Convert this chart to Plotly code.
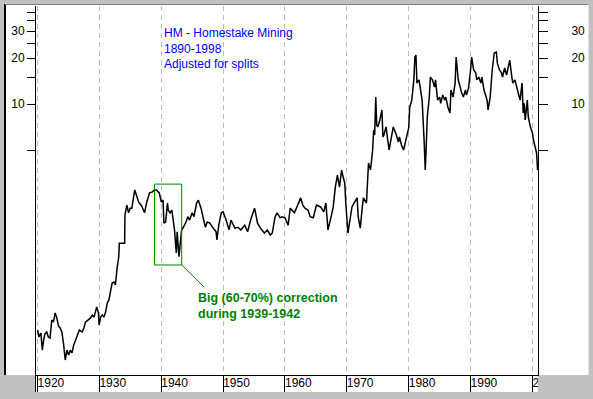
import plotly.graph_objects as go

# ---- data (decimal year, split-adjusted price, log scale) ----
years = [
    1920.0, 1920.21, 1920.54, 1920.77, 1920.98, 1921.2, 1921.48, 1921.75, 1922.02, 1922.3,
    1922.57, 1922.84, 1923.11, 1923.39, 1923.66, 1923.93, 1924.2, 1924.48, 1924.75, 1925.03,
    1925.3, 1925.57, 1925.85, 1926.11, 1926.39, 1926.77, 1927.21, 1927.49, 1927.75, 1928.2,
    1928.57, 1928.85, 1929.13, 1929.56, 1929.84, 1929.95, 1930.2, 1930.48, 1930.75, 1931.0,
    1931.27, 1931.54, 1931.79, 1932.06, 1932.33, 1932.59, 1932.86, 1933.13, 1933.22, 1934.08,
    1934.13, 1934.29, 1934.44, 1934.71, 1934.97,
    1935.24, 1935.71, 1936.35, 1936.83, 1937.3, 1937.62, 1938.1, 1938.57, 1938.89, 1939.21,
    1939.68, 1940.0, 1940.29, 1940.43, 1940.71, 1941.0, 1941.14, 1941.43, 1941.71, 1941.86,
    1942.14, 1942.43, 1942.57, 1942.86, 1943.14, 1943.29, 1943.57, 1944.0, 1944.29, 1944.57,
    1945.0, 1945.29, 1945.71, 1946.0, 1946.14, 1946.43, 1946.86, 1947.14, 1947.43, 1947.86,
    1948.29, 1948.86, 1949.0, 1949.29, 1949.71, 1950.0, 1950.48, 1950.95, 1951.27, 1951.9,
    1952.38, 1952.86, 1953.49, 1953.97, 1954.44, 1955.08, 1955.24, 1955.56, 1956.03, 1956.67,
    1957.14, 1957.62, 1957.94, 1958.41, 1958.73, 1959.21, 1959.52, 1960.0, 1960.51, 1960.85,
    1961.53, 1962.03, 1962.54, 1962.88, 1963.22, 1963.73, 1964.07, 1964.58, 1965.08, 1965.76,
    1966.27, 1966.61, 1966.95, 1967.46, 1967.8, 1968.14, 1968.47, 1968.81, 1969.15, 1969.32,
    1969.66, 1969.83, 1970.17, 1970.5, 1970.83, 1971.17, 1971.67, 1971.83, 1972.17, 1972.5,
    1972.67, 1973.17, 1973.33, 1973.5, 1973.83, 1974.17, 1974.33, 1974.5, 1974.67, 1974.83,
    1975.0, 1975.33, 1975.67, 1975.83, 1976.0, 1976.33, 1976.83, 1977.17, 1977.5, 1978.0,
    1978.33, 1978.5, 1978.83, 1979.17, 1979.5, 1979.67, 1980.0, 1980.17, 1980.5, 1980.83,
    1981.0, 1981.17, 1981.33, 1981.67, 1981.83, 1982.17, 1982.5, 1982.67, 1982.83, 1983.0,
    1983.33, 1983.5, 1983.83, 1984.17, 1984.33, 1984.67, 1985.0, 1985.17, 1985.5, 1985.83,
    1986.0, 1986.33, 1986.67, 1986.83, 1987.17, 1987.5, 1987.67, 1988.0, 1988.33, 1988.5,
    1988.83, 1989.17, 1989.33, 1989.67, 1990.0, 1990.17, 1990.5, 1990.83, 1991.0, 1991.33,
    1991.67, 1991.83, 1992.17, 1992.5, 1992.67, 1992.83, 1993.17, 1993.5, 1993.67, 1993.83,
    1994.17, 1994.33, 1994.67, 1995.0, 1995.17, 1995.5, 1995.83, 1996.0, 1996.33, 1996.67,
    1996.83, 1997.17, 1997.5, 1997.67, 1998.0, 1998.33, 1998.5, 1998.67, 1998.83, 1999.17,
    1999.33, 1999.67, 2000.0, 2000.17, 2000.5, 2000.67, 2000.83,
]
prices = [
    0.332, 0.299, 0.317, 0.245, 0.285, 0.313, 0.322, 0.299, 0.294, 0.386,
    0.374, 0.429, 0.398, 0.353, 0.342, 0.322, 0.269, 0.211, 0.245, 0.228,
    0.245, 0.235, 0.265, 0.285, 0.299, 0.332, 0.322, 0.342, 0.374, 0.386,
    0.398, 0.416, 0.403, 0.470, 0.429, 0.358, 0.403, 0.416, 0.403, 0.435,
    0.499, 0.522, 0.606, 0.674, 0.684, 0.654, 0.845, 1.00, 1.226, 1.226,
    1.88, 2.02, 2.18, 1.94, 2.08,
    2.08, 2.74, 2.28, 2.15, 1.94, 2.25, 2.62, 2.66, 2.74, 2.74,
    2.62, 2.28, 2.35, 1.66, 1.69, 2.25, 2.02, 1.94, 2.02, 1.83,
    1.50, 1.06, 1.46, 1.00, 1.35, 1.50, 1.56, 1.69, 1.83, 1.74,
    1.94, 1.83, 2.25, 2.35, 2.25, 2.08, 1.74, 1.56, 1.69, 1.66,
    1.56, 1.46, 1.29, 1.61, 1.94, 1.97, 1.74, 1.50, 1.74, 1.54,
    1.56, 1.50, 1.61, 1.46, 1.74, 2.08, 1.94, 1.66, 1.54, 1.43,
    1.50, 1.39, 1.43, 1.83, 1.94, 1.80, 1.83, 1.80, 1.61, 2.08,
    1.94, 2.18, 2.43, 2.18, 2.08, 2.02, 1.83, 1.80, 2.18, 2.12,
    1.97, 2.25, 1.50, 1.83, 2.12, 2.86, 3.43, 2.86, 3.70, 3.43,
    3.04, 2.25, 1.43, 1.74, 2.12, 2.25, 2.43, 1.83, 1.54, 2.12,
    2.43, 2.25, 3.33, 4.11, 3.70, 5.00, 6.76, 6.27, 11.1, 7.29,
    7.08, 7.86, 9.14, 6.09, 6.27, 7.08, 5.00, 5.81, 7.08, 6.27,
    5.64, 6.09, 5.39, 5.00, 5.81, 6.09, 6.97, 9.56, 10.6, 14.4,
    20.3, 20.9, 13.7, 14.4, 12.7, 10.6, 5.64, 3.70, 5.23, 8.22,
    11.1, 15.0, 14.4, 12.9, 14.4, 10.6, 11.1, 10.1, 11.45, 10.6,
    11.1, 9.56, 8.72, 12.35, 11.1, 13.7, 20.3, 14.4, 12.9, 12.0,
    11.1, 12.35, 11.45, 12.7, 16.7, 20.3, 16.7, 16.0, 14.4, 15.0,
    13.7, 15.0, 12.35, 11.1, 10.6, 9.14, 11.1, 16.7, 20.3, 21.6,
    21.9, 18.5, 16.7, 16.0, 15.0, 17.2, 15.5, 16.7, 19.4, 15.0,
    13.7, 14.4, 12.9, 11.8, 10.6, 13.7, 8.72, 10.1, 7.86, 10.6,
    8.22, 7.08, 6.46, 5.81, 5.23, 4.78, 3.70,
]
assert len(years) == len(prices), (len(years), len(prices))

decades = [1920, 1930, 1940, 1950, 1960, 1970, 1980, 1990, 2000]
decade_labels = ["1920", "1930", "1940", "1950", "1960", "1970", "1980", "1990", "2000"]

y_tickvals = [5, 10, 15, 20, 25, 30, 35, 40]
y_ticktext = ["", "10", "", "20", "", "30", "", ""]

# highlighted correction box (years / prices) and its leader line end
box_years = [1938.9, 1943.3]
box_prices = [0.884, 2.99]
leader_end = (1946.9, 0.635)

title_lines = ["HM - Homestake Mining", "1890-1998", "Adjusted for splits"]
note_lines = ["Big (60-70%) correction", "during 1939-1942"]

# ---- layout geometry (pixels of a 593x399 canvas) ----
W, H = 593, 399
ML, MR, MT, MB = 36, 55, 6, 7
PW, PH = W - ML - MR, H - MT - MB
def px(x):
    return (x - ML) / PW
def py(y):
    return (H - MB - y) / PH

FONT = "Liberation Sans, Arial, sans-serif"
yrange = [-0.7736, 1.6414]
xrange_ = [1919.75, 2000.9]

fig = go.Figure()
fig.add_trace(go.Scatter(x=years, y=prices, mode="lines",
                         line=dict(color="black", width=1.5),
                         xaxis="x", yaxis="y", hoverinfo="skip"))
# anchor trace for the right-hand axis
fig.add_trace(go.Scatter(x=[years[0]], y=[prices[0]], mode="markers",
                         marker=dict(opacity=0), xaxis="x", yaxis="y3", hoverinfo="skip"))
# green box + leader
fig.add_trace(go.Scatter(x=[box_years[0], box_years[1], box_years[1], box_years[0], box_years[0]],
                         y=[box_prices[0], box_prices[0], box_prices[1], box_prices[1], box_prices[0]],
                         mode="lines", line=dict(color="#008000", width=1),
                         xaxis="x", yaxis="y", hoverinfo="skip"))
fig.add_trace(go.Scatter(x=[box_years[1], leader_end[0]], y=[box_prices[0], leader_end[1]],
                         mode="lines", line=dict(color="#008000", width=1),
                         xaxis="x", yaxis="y", hoverinfo="skip"))
# year labels strip
fig.add_trace(go.Scatter(x=decades, y=[0.5] * len(decades), mode="text", text=decade_labels,
                         textposition="middle right",
                         textfont=dict(size=12, color="black", family=FONT),
                         xaxis="x2", yaxis="y2", cliponaxis=True, hoverinfo="skip"))

strip_top = 16 / PH
main_bottom = 17 / PH

fig.update_layout(
    template="none",
    width=W, height=H,
    margin=dict(l=ML, r=MR, t=MT, b=MB, pad=0, autoexpand=False),
    paper_bgcolor="#c0c0c0", plot_bgcolor="white",
    showlegend=False,
    font=dict(family=FONT, size=12, color="black"),
    xaxis=dict(domain=[0, 1], anchor="y", range=xrange_, tickvals=decades, automargin=False,
               showticklabels=False, ticks="", showgrid=True, gridcolor="#bcbcbc",
               griddash="5px,4px", gridwidth=1, showline=True, linecolor="black",
               linewidth=1, zeroline=False),
    yaxis=dict(domain=[main_bottom, 1], anchor="x", type="log", range=yrange, automargin=False,
               tickvals=y_tickvals, ticktext=y_ticktext, ticks="outside", ticklen=8,
               tickcolor="black", tickwidth=1, showline=True, linecolor="black",
               linewidth=1, showgrid=False, zeroline=False,
               tickfont=dict(size=12, color="black", family=FONT)),
    yaxis3=dict(overlaying="y", side="right", anchor="x", type="log", range=yrange,
                automargin=False,
                tickvals=y_tickvals, ticktext=y_ticktext, ticks="outside", ticklen=9,
                tickcolor="black", tickwidth=1, showline=True, linecolor="black",
                linewidth=1, showgrid=False, zeroline=False, ticklabelstandoff=21,
                tickfont=dict(size=12, color="black", family=FONT)),
    xaxis2=dict(domain=[0, 1], anchor="y2", matches="x", range=xrange_, tickvals=decades,
                automargin=False,
                showticklabels=False, ticks="", showgrid=True, gridcolor="black",
                gridwidth=1, showline=False, zeroline=False),
    yaxis2=dict(domain=[0, strip_top], anchor="x2", range=[0, 1], showgrid=False,
                automargin=False,
                showticklabels=False, ticks="", showline=True, linecolor="black",
                linewidth=1, zeroline=False),
    shapes=[
        dict(type="rect", xref="paper", yref="paper", x0=px(6), x1=px(588),
             y0=py(375), y1=py(5), fillcolor="white", line=dict(width=0), layer="below"),
        dict(type="line", xref="paper", yref="paper", x0=px(5), x1=px(5),
             y0=py(375), y1=py(4), line=dict(color="black", width=2)),
        dict(type="line", xref="paper", yref="paper", x0=px(5), x1=px(588),
             y0=py(4.5), y1=py(4.5), line=dict(color="#808080", width=1)),
        dict(type="line", xref="paper", yref="paper", x0=px(588.5), x1=px(588.5),
             y0=py(375), y1=py(5), line=dict(color="#e4e4e4", width=1)),
    ],
    annotations=[
        dict(xref="paper", yref="paper", x=px(162), y=py(24), xanchor="left", yanchor="top",
             text="<br>".join(title_lines), showarrow=False, align="left",
             font=dict(size=12, color="#0000ff", family=FONT)),
        dict(xref="paper", yref="paper", x=px(196), y=py(289), xanchor="left", yanchor="top",
             text="<b>" + "<br>".join(note_lines) + "</b>", showarrow=False, align="left",
             font=dict(size=12.5, color="#008000", family=FONT)),
    ],
)

fig.write_html("out.html", config={"displayModeBar": False, "staticPlot": True},
               post_script="document.body.style.margin='0px';document.body.style.background='#c0c0c0';")
